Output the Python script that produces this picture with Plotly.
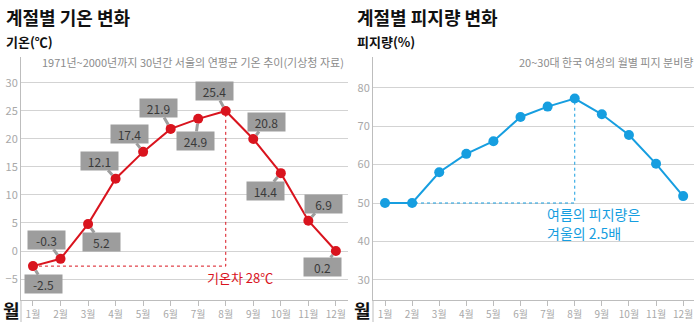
import plotly.graph_objects as go

months = ["1월", "2월", "3월", "4월", "5월", "6월", "7월", "8월", "9월", "10월", "11월", "12월"]
month_num = list(range(1, 13))

# plotted temperature positions and their printed labels
temps = [-2.7, -1.4, 4.8, 12.9, 17.7, 21.8, 23.6, 25.0, 20.0, 13.9, 5.4, 0.0]
temp_labels = ["-2.5", "-0.3", "5.2", "12.1", "17.4", "21.9", "24.9", "25.4", "20.8", "14.4", "6.9", "0.2"]
# sebum percentages
sebum = [50.0, 50.0, 58.0, 62.8, 66.1, 72.4, 75.1, 77.2, 73.1, 67.7, 60.2, 51.8]

temp_ticks = [-5, 0, 5, 10, 15, 20, 25, 30]
sebum_ticks = [30, 40, 50, 60, 70, 80]

# label box offsets (pixels) relative to each point
label_ax = [11, -14, 13, -16, -14, -12, -3, -11, 13, -15, 15, -13]
label_ay = [18, -19, 18, -18, -18, -21, 22, -20, -17, 18, -17, 16]

RED = "#d9141e"
BLUE = "#169ee0"
GRID = "#d3d3d3"
AXIS = "#bdbdbd"
TICKF = "#a8a8a8"
FONT = "Noto Sans CJK KR"

W, H = 700, 325
def px(x):
    return x / W
def py(y):
    return 1 - y / H

top, bottom = 57, 300

fig = go.Figure()

# left chart
imin = temps.index(min(temps))
imax = temps.index(max(temps))
fig.add_trace(go.Scatter(x=[month_num[imin], month_num[imax], month_num[imax]],
                         y=[temps[imin], temps[imin], temps[imax]],
                         mode="lines", line=dict(color=RED, width=1, dash="dot"),
                         xaxis="x", yaxis="y", hoverinfo="skip"))
fig.add_trace(go.Scatter(x=month_num, y=temps, mode="lines+markers",
                         line=dict(color=RED, width=2), marker=dict(size=10, color=RED),
                         xaxis="x", yaxis="y"))

# right chart
smin = sebum.index(min(sebum))
smax = sebum.index(max(sebum))
fig.add_trace(go.Scatter(x=[month_num[smin], month_num[smax], month_num[smax]],
                         y=[sebum[smin], sebum[smin], sebum[smax]],
                         mode="lines", line=dict(color=BLUE, width=1, dash="dot"),
                         xaxis="x2", yaxis="y2", hoverinfo="skip"))
fig.add_trace(go.Scatter(x=month_num, y=sebum, mode="lines+markers",
                         line=dict(color=BLUE, width=2), marker=dict(size=10, color=BLUE),
                         xaxis="x2", yaxis="y2"))

ann = []
for i in range(12):
    ann.append(dict(x=month_num[i], y=temps[i], xref="x", yref="y",
                    text=temp_labels[i], showarrow=True, ax=label_ax[i], ay=label_ay[i],
                    arrowhead=0, arrowwidth=3, arrowcolor="#9d9d9d", standoff=5,
                    bgcolor="#9d9d9d", width=33, height=14, borderpad=2,
                    font=dict(family=FONT, size=12, color="#3a3a3a")))

ann += [
    dict(x=px(4), y=py(17), xref="paper", yref="paper", xanchor="left", yanchor="middle",
         text="<b>계절별 기온 변화</b>", showarrow=False, font=dict(family=FONT, size=18, color="#111")),
    dict(x=px(4), y=py(41), xref="paper", yref="paper", xanchor="left", yanchor="middle",
         text="<b>기온(℃)</b>", showarrow=False, font=dict(family=FONT, size=13, color="#111")),
    dict(x=px(346), y=py(62), xref="paper", yref="paper", xanchor="right", yanchor="middle",
         text="1971년~2000년까지 30년간 서울의 연평균 기온 추이(기상청 자료)", showarrow=False,
         font=dict(family=FONT, size=11, color="#8c8c8c")),
    dict(x=px(355), y=py(17), xref="paper", yref="paper", xanchor="left", yanchor="middle",
         text="<b>계절별 피지량 변화</b>", showarrow=False, font=dict(family=FONT, size=18, color="#111")),
    dict(x=px(355), y=py(41), xref="paper", yref="paper", xanchor="left", yanchor="middle",
         text="<b>피지량(%)</b>", showarrow=False, font=dict(family=FONT, size=13, color="#111")),
    dict(x=px(695), y=py(62), xref="paper", yref="paper", xanchor="right", yanchor="middle",
         text="20~30대 한국 여성의 월별 피지 분비량", showarrow=False,
         font=dict(family=FONT, size=11, color="#8c8c8c")),
    dict(x=px(11), y=0, xref="paper", yref="paper", xanchor="center", yanchor="bottom",
         text="<b>월</b>", showarrow=False, font=dict(family=FONT, size=18, color="#111")),
    dict(x=px(362), y=0, xref="paper", yref="paper", xanchor="center", yanchor="bottom",
         text="<b>월</b>", showarrow=False, font=dict(family=FONT, size=18, color="#111")),
    dict(x=8.51, y=-4.8, xref="x", yref="y", xanchor="center", yanchor="middle",
         text="기온차 28℃", showarrow=False, font=dict(family=FONT, size=13, color=RED)),
    dict(x=6.9, y=47.1, xref="x2", yref="y2", xanchor="left", yanchor="middle", align="left",
         text="여름의 피지량은", showarrow=False, font=dict(family=FONT, size=14, color=BLUE)),
    dict(x=6.9, y=42.3, xref="x2", yref="y2", xanchor="left", yanchor="middle", align="left",
         text="겨울의 2.5배", showarrow=False, font=dict(family=FONT, size=14, color=BLUE)),
]

common_x = dict(tickmode="array", tickvals=month_num, ticktext=months, showgrid=False,
                showline=True, linecolor=AXIS, linewidth=1, ticks="outside", ticklen=5,
                tickcolor=AXIS, tickfont=dict(family=FONT, size=10, color=TICKF), zeroline=False)
common_y = dict(showgrid=True, gridcolor=GRID, gridwidth=1, showline=True, linecolor=AXIS,
                linewidth=1, ticks="", tickfont=dict(family=FONT, size=11, color=TICKF),
                zeroline=False, tickmode="array")

fig.update_layout(
    width=W, height=H, margin=dict(l=0, r=0, t=0, b=0),
    paper_bgcolor="white", plot_bgcolor="white", showlegend=False,
    xaxis=dict(domain=[px(21), px(348)], range=[0.565, 12.44], anchor="y", **common_x),
    yaxis=dict(domain=[py(bottom), py(top)], range=[-8.75, 34.64], anchor="x",
               tickvals=temp_ticks, **common_y),
    xaxis2=dict(domain=[px(373), px(694)], range=[0.557, 12.4], anchor="y2", **common_x),
    yaxis2=dict(domain=[py(bottom), py(top)], range=[24.74, 88.02], anchor="x2",
                tickvals=sebum_ticks, **common_y),
    annotations=ann,
    shapes=[
        dict(type="line", xref="paper", yref="paper", x0=px(21), x1=px(21), y0=py(300), y1=py(322),
             line=dict(color=AXIS, width=1)),
        dict(type="line", xref="paper", yref="paper", x0=px(373), x1=px(373), y0=py(300), y1=py(322),
             line=dict(color=AXIS, width=1)),
    ],
)

fig.write_html("out.html")
